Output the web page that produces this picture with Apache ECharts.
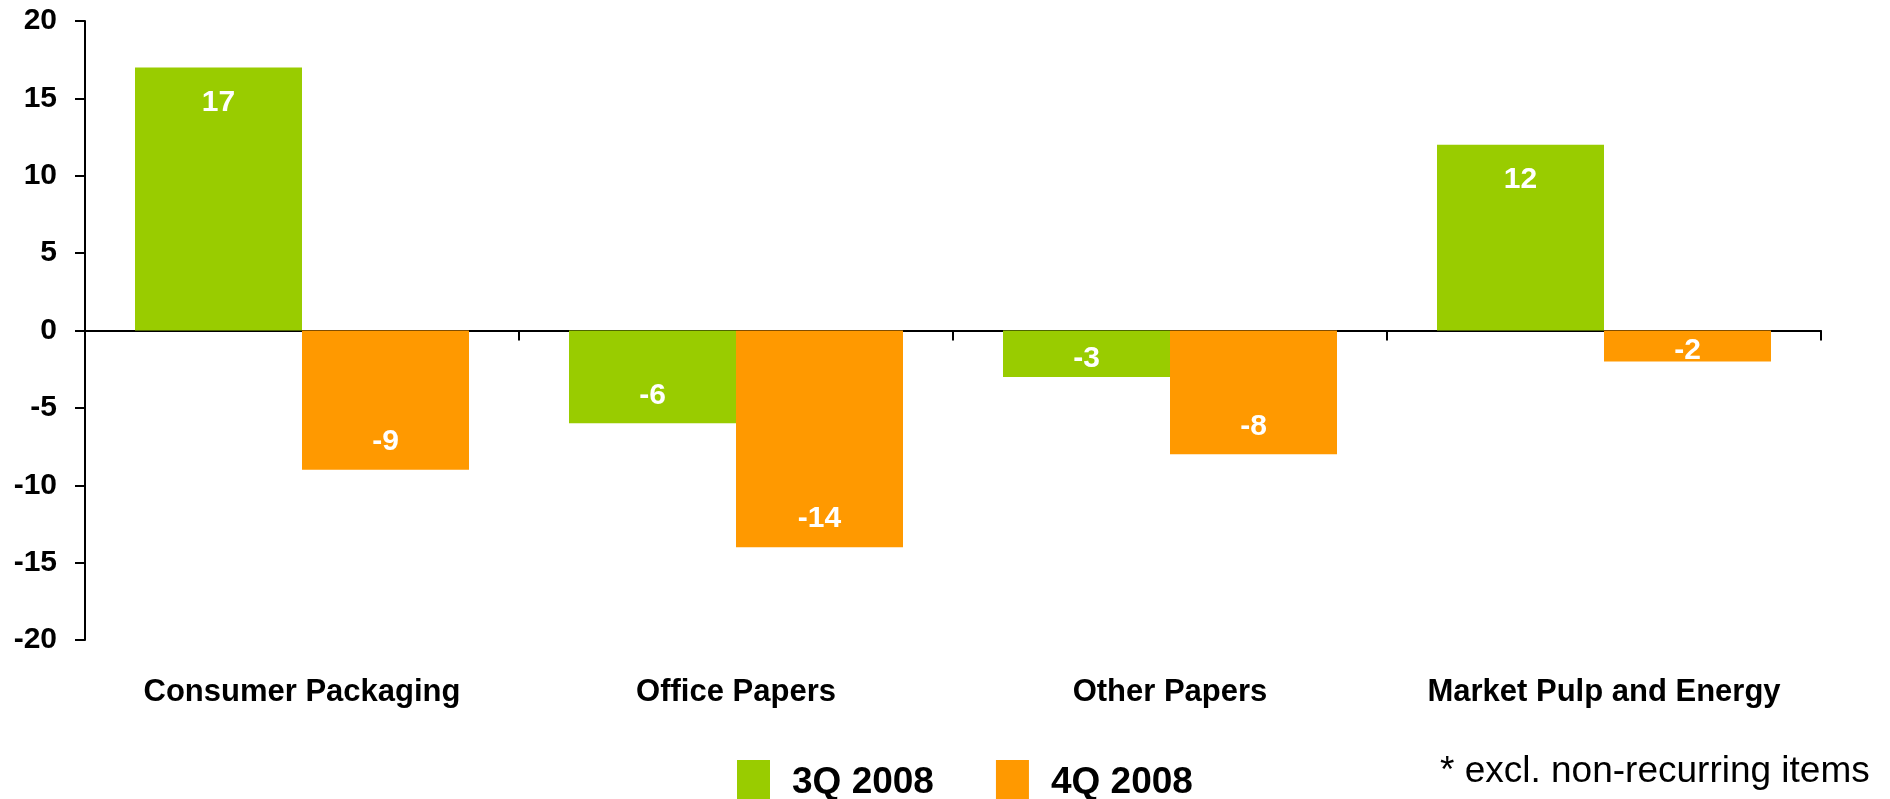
<!DOCTYPE html>
<html>
<head>
<meta charset="utf-8">
<title>Segment results</title>
<script src="https://cdn.jsdelivr.net/npm/echarts@6/dist/echarts.min.js"></script>
<style>
  html, body { margin: 0; padding: 0; background: #ffffff; }
  #chart { width: 1890px; height: 799px; }
</style>
</head>
<body>
<div id="chart"></div>
<script>
// Segments and quarterly values
const categories = ['Consumer Packaging', 'Office Papers', 'Other Papers', 'Market Pulp and Energy'];
const seriesNames = ['3Q 2008', '4Q 2008'];
const values3Q = [17, -6, -3, 12];
const values4Q = [-9, -14, -8, -2];
const footnote = '* excl. non-recurring items';

const FONT = "'Liberation Sans', Arial, Helvetica, sans-serif";
const GREEN = '#99CC00';
const ORANGE = '#FF9900';

// Labels sit near the end of each bar; very short bars get a centred label
function toItems(values) {
  return values.map(function (v) {
    if (Math.abs(v) < 4) {
      return { value: v, label: { position: 'inside', offset: [0, 5] } };
    }
    if (v >= 0) {
      return { value: v, label: { position: 'insideTop', distance: 20 } };
    }
    return { value: v, label: { position: 'insideBottom', distance: 13 } };
  });
}

const barLabel = {
  show: true,
  color: '#ffffff',
  fontFamily: FONT,
  fontWeight: 'bold',
  fontSize: 30,
  lineHeight: 30
};

const chart = echarts.init(document.getElementById('chart'), null, { renderer: 'canvas' });

chart.setOption({
  backgroundColor: '#ffffff',
  animation: false,
  grid: { left: 85, right: 69, top: 21, bottom: 159, containLabel: false },
  legend: {
    data: seriesNames,
    left: 737,
    top: 760,
    padding: 0,
    icon: 'rect',
    itemWidth: 33,
    itemHeight: 46,
    itemGap: 62,
    selectedMode: false,
    textStyle: {
      color: '#000000',
      fontFamily: FONT,
      fontWeight: 'bold',
      fontSize: 37,
      padding: [0, 0, 0, 17]
    }
  },
  xAxis: [
    {
      // axis line through zero with boundary ticks
      type: 'category',
      data: categories,
      axisLine: { onZero: true, lineStyle: { color: '#000000', width: 2 } },
      axisTick: { show: true, length: 10, lineStyle: { color: '#000000', width: 2 } },
      axisLabel: { show: false },
      splitLine: { show: false }
    },
    {
      // category names along the bottom
      type: 'category',
      data: categories,
      position: 'bottom',
      axisLine: { show: false, onZero: false },
      axisTick: { show: false },
      splitLine: { show: false },
      axisLabel: {
        show: true,
        interval: 0,
        margin: 37,
        color: '#000000',
        fontFamily: FONT,
        fontWeight: 'bold',
        fontSize: 31
      }
    }
  ],
  yAxis: {
    type: 'value',
    min: -20,
    max: 20,
    interval: 5,
    axisLine: { show: true, lineStyle: { color: '#000000', width: 2 } },
    axisTick: { show: true, length: 10, lineStyle: { color: '#000000', width: 2 } },
    splitLine: { show: false },
    axisLabel: {
      margin: 28,
      color: '#000000',
      fontFamily: FONT,
      fontWeight: 'bold',
      fontSize: 30
    }
  },
  series: [
    {
      name: seriesNames[0],
      type: 'bar',
      xAxisIndex: 0,
      data: toItems(values3Q),
      barWidth: 167,
      barGap: '0%',
      itemStyle: { color: GREEN },
      label: barLabel
    },
    {
      name: seriesNames[1],
      type: 'bar',
      xAxisIndex: 0,
      data: toItems(values4Q),
      barWidth: 167,
      barGap: '0%',
      itemStyle: { color: ORANGE },
      label: barLabel
    }
  ],
  graphic: [
    {
      type: 'text',
      left: 1440,
      top: 753,
      style: {
        text: footnote,
        fill: '#000000',
        font: 'normal 37px ' + FONT
      }
    }
  ]
});
</script>
</body>
</html>
